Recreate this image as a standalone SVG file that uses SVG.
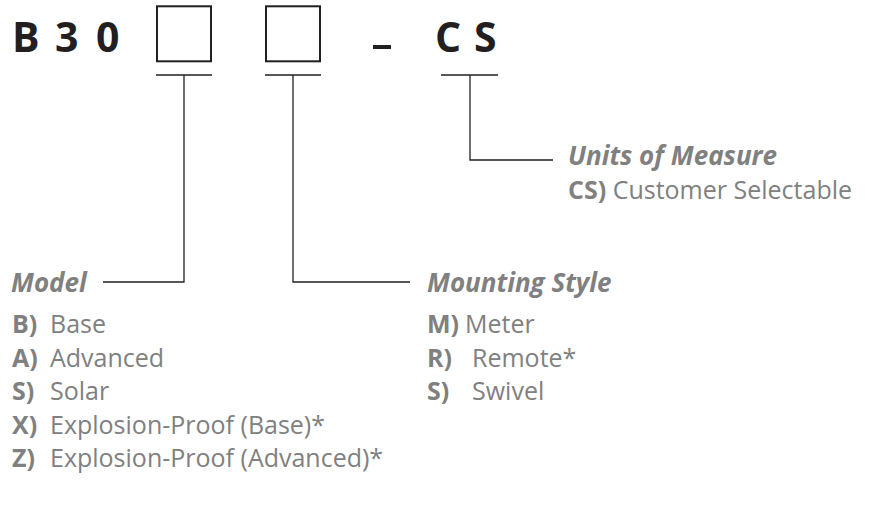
<svg xmlns="http://www.w3.org/2000/svg" width="885" height="515" viewBox="0 0 885 515">
<style>
.code{font-family:"Open Sans","Liberation Sans",sans-serif;font-weight:bold;font-size:41px;fill:#231f20}
.box{fill:none;stroke:#231f20;stroke-width:2}
.ln{fill:none;stroke:#231f20;stroke-width:1.3}
.hd{font-family:"Open Sans","Liberation Sans",sans-serif;font-weight:bold;font-style:italic;font-size:26px;fill:#808080}
.it{font-family:"Open Sans","Liberation Sans",sans-serif;font-size:25px;fill:#808080}
.k{font-weight:bold}
</style>
<rect width="885" height="515" fill="#fff"/>
<g id="code">
<text class="code" x="12" y="52">B</text>
<text class="code" x="55" y="52">3</text>
<text class="code" x="96" y="52">0</text>
<rect class="box" x="157" y="6.3" width="54" height="55"/>
<rect class="box" x="266" y="6.3" width="54" height="55"/>
<rect x="373" y="45" width="18" height="4" fill="#231f20"/>
<text class="code" x="435" y="52">C</text>
<text class="code" x="474" y="52">S</text>
</g>
<g id="connectors">
<path class="ln" d="M156 75H212M184 75V282H103"/>
<path class="ln" d="M265 75H321M293 75V282H410"/>
<path class="ln" d="M441 75H498M470 75V160H553"/>
</g>
<g id="units">
<text class="hd" x="568" y="165">Units of Measure</text>
<text class="it" x="568" y="199"><tspan class="k">CS)</tspan> Customer Selectable</text>
</g>
<g id="model">
<text class="hd" x="11" y="292">Model</text>
<text class="it" x="12" y="333"><tspan class="k">B)</tspan><tspan x="50">Base</tspan></text>
<text class="it" x="12" y="367"><tspan class="k">A)</tspan><tspan x="50">Advanced</tspan></text>
<text class="it" x="12" y="400"><tspan class="k">S)</tspan><tspan x="50">Solar</tspan></text>
<text class="it" x="12" y="434"><tspan class="k">X)</tspan><tspan x="50">Explosion-Proof (Base)*</tspan></text>
<text class="it" x="12" y="467"><tspan class="k">Z)</tspan><tspan x="50">Explosion-Proof (Advanced)*</tspan></text>
</g>
<g id="mounting">
<text class="hd" x="427" y="292">Mounting Style</text>
<text class="it" x="427" y="333"><tspan class="k">M)</tspan><tspan x="465">Meter</tspan></text>
<text class="it" x="427" y="367"><tspan class="k">R)</tspan><tspan x="472">Remote*</tspan></text>
<text class="it" x="427" y="400"><tspan class="k">S)</tspan><tspan x="472">Swivel</tspan></text>
</g>
</svg>
